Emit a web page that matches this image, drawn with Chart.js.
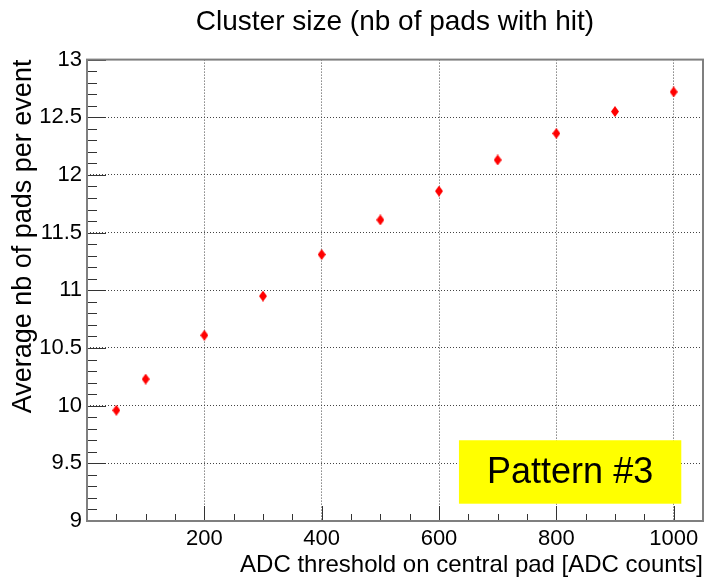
<!DOCTYPE html>
<html>
<head>
<meta charset="utf-8">
<title>Cluster size</title>
<script src="https://cdn.jsdelivr.net/npm/chart.js@4"></script>
<style>
  html, body { margin: 0; padding: 0; background: #fff; }
  #wrap { width: 717px; height: 585px; }
</style>
</head>
<body>
<div id="wrap"><canvas id="clusterChart" width="717" height="585"></canvas></div>
<script>
// threshold scan, pattern #3
const thresholds = [50, 100, 200, 300, 400, 500, 600, 700, 800, 900, 1000];
const avgPads = [9.96, 10.23, 10.61, 10.95, 11.31, 11.61, 11.86, 12.13, 12.36, 12.55, 12.72];
const xTickValues = [0, 200, 400, 600, 800, 1000];
const yTickValues = [9, 9.5, 10, 10.5, 11, 11.5, 12, 12.5, 13];
const patternLabel = 'Pattern #3';

const FONT = '"Liberation Sans", Arial, Helvetica, sans-serif';

// small red diamond, like the ROOT marker
function diamond(w, h, color) {
    const c = document.createElement('canvas');
    c.width = w;
    c.height = h;
    const g = c.getContext('2d');
    g.fillStyle = color;
    g.beginPath();
    g.moveTo(w / 2, 0);
    g.lineTo(w, h / 2);
    g.lineTo(w / 2, h);
    g.lineTo(0, h / 2);
    g.closePath();
    g.fill();
    return c;
}

// frame, inner ticks and the yellow label box
const rootFrame = {
    id: 'rootFrame',
    afterDraw(chart) {
        const { ctx, chartArea: a, scales: { x, y } } = chart;
        ctx.save();

        ctx.strokeStyle = '#333';
        ctx.lineWidth = 1;
        ctx.beginPath();
        for (let v = x.min; v <= x.max; v += 50) {
            const px = Math.round(x.getPixelForValue(v)) + 0.5;
            const len = v % 200 === 0 ? 15 : 7;
            ctx.moveTo(px, a.bottom);
            ctx.lineTo(px, a.bottom - len);
        }
        const nY = Math.round((y.max - y.min) / 0.1);
        for (let i = 0; i <= nY; i++) {
            const py = Math.round(y.getPixelForValue(y.min + i * 0.1)) + 0.5;
            const len = i % 5 === 0 ? 19 : 10;
            ctx.moveTo(a.left, py);
            ctx.lineTo(a.left + len, py);
        }
        ctx.stroke();

        ctx.strokeStyle = '#7f7f7f';
        ctx.lineWidth = 2;
        ctx.strokeRect(a.left, a.top, a.right - a.left, a.bottom - a.top);

        // label box
        const bx0 = x.getPixelForValue(634), bx1 = x.getPixelForValue(1013);
        const by0 = y.getPixelForValue(9.70), by1 = y.getPixelForValue(9.15);
        ctx.fillStyle = '#ffff00';
        ctx.fillRect(bx0, by0, bx1 - bx0, by1 - by0);
        ctx.fillStyle = '#000';
        ctx.font = '36px ' + FONT;
        ctx.textAlign = 'center';
        ctx.textBaseline = 'middle';
        ctx.fillText(patternLabel, (bx0 + bx1) / 2, (by0 + by1) / 2 + 1);

        ctx.restore();
    }
};

const ctx = document.getElementById('clusterChart').getContext('2d');

new Chart(ctx, {
    type: 'scatter',
    data: {
        datasets: [{
            label: 'Average nb of pads per event',
            data: thresholds.map((t, i) => ({ x: t, y: avgPads[i] })),
            pointStyle: diamond(8, 11, '#ff0000'),
            pointRadius: 5,
            showLine: false
        }]
    },
    options: {
        responsive: false,
        animation: false,
        layout: { padding: { left: 0, right: 14, top: 0, bottom: 0 } },
        plugins: {
            legend: { display: false },
            tooltip: { enabled: false },
            title: {
                display: true,
                text: 'Cluster size (nb of pads with hit)',
                fullSize: false,
                color: '#000',
                font: { family: FONT, size: 28, weight: 'normal' },
                padding: { top: 5, bottom: 21 }
            }
        },
        scales: {
            x: {
                type: 'linear',
                min: 0,
                max: 1050,
                afterBuildTicks: s => { s.ticks = xTickValues.map(v => ({ value: v })); },
                afterFit: s => { s.height = 64; },
                ticks: {
                    callback: v => (v === 0 ? '' : String(v)),
                    color: '#000',
                    font: { family: FONT, size: 22 },
                    padding: 5,
                    maxRotation: 0,
                    autoSkip: false
                },
                grid: { color: '#444', drawTicks: false, lineWidth: 1 },
                border: { display: false, dash: [1, 2] },
                title: {
                    display: true,
                    text: 'ADC threshold on central pad [ADC counts]',
                    align: 'end',
                    color: '#000',
                    font: { family: FONT, size: 24 },
                    padding: { top: 0, bottom: 5 }
                }
            },
            y: {
                min: 9,
                max: 13,
                afterBuildTicks: s => { s.ticks = yTickValues.map(v => ({ value: v })); },
                afterFit: s => { s.width = 87; },
                ticks: {
                    callback: v => String(v),
                    color: '#000',
                    font: { family: FONT, size: 22 },
                    padding: 5,
                    autoSkip: false
                },
                grid: { color: '#444', drawTicks: false, lineWidth: 1 },
                border: { display: false, dash: [1, 2] },
                title: {
                    display: true,
                    text: 'Average nb of pads per event',
                    align: 'end',
                    color: '#000',
                    font: { family: FONT, size: 27 },
                    padding: { top: 7, bottom: 0 }
                }
            }
        }
    },
    plugins: [rootFrame]
});
</script>
</body>
</html>
